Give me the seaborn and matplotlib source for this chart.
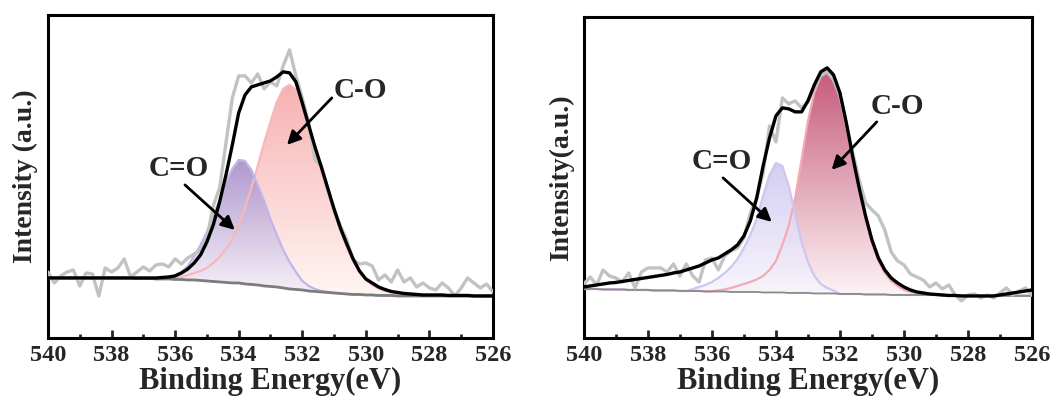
import numpy as np
import pandas as pd
import matplotlib.pyplot as plt
import seaborn as sns
from matplotlib.colors import to_rgb

# binding energy grid the curves were read at (eV), 540 -> 526 in 0.2 steps
energy = np.round(np.linspace(540, 526, 71), 1)

# ---------- left panel ----------
raw_left = [66, 55, 62, 66, 68, 52, 65, 64, 42, 70,
            66, 70, 79, 61, 66, 71, 67, 73, 74, 71,
            79, 74, 80, 84, 88, 100, 132, 150, 195, 240,
            262, 262, 255, 264, 249, 256, 252, 272, 288, 262,
            240, 215, 178, 172, 148, 128, 112, 98, 78, 74,
            75, 72, 58, 63, 56, 68, 56, 60, 51, 55,
            50, 48, 55, 50, 42, 50, 60, 55, 50, 54,
            46]
env_left = [60, 60, 60, 60, 60, 60, 60, 60, 60, 60,
            60, 60, 60, 60, 60, 60, 60, 60, 60.5, 61,
            62, 65, 69, 75, 83, 96, 113, 136, 163, 193,
            225, 243, 251, 253, 255, 257, 261, 266, 265, 256,
            235, 213, 191, 171, 150, 129, 110, 94, 79, 67,
            59, 55, 51, 48.5, 46.5, 45.5, 44.5, 44, 43.5, 43,
            43, 43, 43, 42.5, 42.5, 42.5, 42.5, 42, 42, 42,
            42]
co_left = [60, 60, 60, 60, 60, 60, 60, 60, 60, 60,
           60, 60, 60, 60, 59.5, 59.5, 59.5, 59, 59, 59,
           59, 61, 63, 65, 67, 70, 75, 81, 89, 99,
           113, 130, 150, 172, 195, 216, 236, 249, 253, 248,
           232, 210, 188, 167, 146, 126, 107, 91, 77, 66,
           58, 53, 49.5, 47, 45.5, 44.5, 44, 43.5, 43, 42.5,
           42, 42, 42, 42, 42, 42, 42, 42, 42, 42,
           42]
cdo_left = [60, 60, 60, 60, 60, 60, 60, 60, 60, 60,
            60, 60, 60, 60, 59.5, 59.5, 59.5, 59.5, 60, 61,
            63, 66, 72, 82, 93, 106, 122, 138, 155, 169,
            178, 177, 168, 153, 137, 119, 103, 88, 76, 66,
            57, 52, 49, 47, 46, 45, 44.5, 44, 43.5, 43.5,
            43, 43, 42.5, 42.5, 42.5, 42, 42, 42, 42, 42,
            42, 42, 42, 42, 42, 42, 42, 42, 42, 42,
            42]
bg_left = [60, 60, 60, 60, 60, 60, 60, 60, 60, 60,
           60, 60, 60, 60, 59.5, 59.5, 59.5, 59, 59, 59,
           58.5, 58.5, 58, 58, 57.5, 57, 56.5, 56, 55.5, 55,
           55, 54, 53.5, 53, 52, 51.5, 51, 50, 49, 48.5,
           48, 47, 46.5, 46, 45.5, 45, 44.5, 44, 43.5, 43.5,
           43, 43, 42.5, 42.5, 42.5, 42, 42, 42, 42, 42,
           42, 42, 42, 42, 42, 42, 42, 42, 42, 42,
           42]

# ---------- right panel ----------
raw_right = [54, 61, 53, 68, 62, 60, 56, 65, 50, 66,
             70, 70, 70, 66, 74, 62, 74, 62, 56, 78,
             80, 68, 82, 87, 90, 100, 125, 140, 165, 212,
             196, 240, 234, 237, 230, 236, 250, 262, 266, 258,
             242, 213, 185, 158, 135, 128, 122, 108, 86, 77,
             73, 64, 61, 58, 51, 55, 49, 53, 43, 37,
             43, 44, 40, 43, 40, 45, 50, 43, 47, 50,
             43]
env_right = [51, 52, 53, 54, 55, 55.5, 56.5, 57.5, 58.5, 59.5,
             60.5, 61.5, 62.5, 63.5, 65, 66, 68, 70, 72, 75,
             78, 80, 84, 88, 93, 102, 117, 140, 172, 200,
             222, 230, 229, 226, 226, 237, 253, 266, 270, 263,
             245, 215, 181, 150, 122, 98, 80, 68, 60, 55,
             51, 48, 46, 45, 44, 43.5, 43, 42.5, 42.5, 42,
             42, 42, 42, 42, 42, 43, 44, 45, 46, 47,
             48]
co_right = [49, 49, 49, 48.5, 48.5, 48.5, 48.5, 48, 48, 48,
            48, 47.5, 47.5, 47.5, 47.5, 47, 47, 47, 47, 46.5,
            46.8, 47.5, 48.5, 50, 52, 54, 56, 58.5, 62, 68,
            77, 93, 112, 140, 178, 217, 245, 262, 268, 260,
            242, 212, 178, 147, 119, 95, 77, 65, 57, 52,
            48, 46, 45, 44, 43.5, 43, 43, 42.5, 42.5, 42.5,
            42.5, 42.5, 42.5, 42.5, 42.5, 42.5, 42.5, 42.5, 42.5, 42.5,
            42.5]
cdo_right = [49, 49, 49, 48.5, 48.5, 48.5, 48.5, 48, 48, 48,
             48, 47.5, 47.5, 47.5, 47.5, 47, 47, 49, 51, 53,
             56, 60, 65, 71, 79, 90, 103, 119, 142, 163,
             175, 172, 152, 124, 96, 76, 62, 54, 50, 47.5,
             44, 44, 44, 44, 43.5, 43.5, 43.5, 43.5, 43, 43,
             43, 43, 43, 43, 43, 43, 42.5, 42.5, 42.5, 42.5,
             42.5, 42.5, 42.5, 42.5, 42.5, 42.5, 42.5, 42.5, 42.5, 42.5,
             42.5]
bg_right = [49, 49, 49, 48.5, 48.5, 48.5, 48.5, 48, 48, 48,
            48, 47.5, 47.5, 47.5, 47.5, 47, 47, 47, 47, 46.5,
            46.5, 46.5, 46.5, 46, 46, 46, 46, 46, 45.5, 45.5,
            45.5, 45.5, 45, 45, 45, 45, 44.5, 44.5, 44.5, 44.5,
            44, 44, 44, 44, 43.5, 43.5, 43.5, 43.5, 43, 43,
            43, 43, 43, 43, 43, 43, 42.5, 42.5, 42.5, 42,
            42, 42, 42, 42, 42, 42, 42, 42, 42, 42,
            42]

xticks = [540, 538, 536, 534, 532, 530, 528, 526]

sns.set_style("white")
plt.rcParams['font.family'] = ['Liberation Serif', 'DejaVu Serif']
plt.rcParams['font.weight'] = 'bold'


def gradient_fill(ax, x, y, base, c_top, c_bot, z, alpha=1.0):
    poly = ax.fill_between(x, y, base, facecolor='none', edgecolor='none')
    t = np.linspace(0, 1, 256)[:, None]
    top, bot = np.array(to_rgb(c_top)), np.array(to_rgb(c_bot))
    img = (bot + (top - bot) * t)[:, None, :]
    im = ax.imshow(img, extent=[526, 540, min(base), max(y)], origin='lower',
                   aspect='auto', zorder=z, alpha=alpha, interpolation='bilinear')
    im.set_clip_path(poly.get_paths()[0], transform=ax.transData)


def panel(ax, df, st, ylab, ytop, labelpad_x):
    gradient_fill(ax, df.E, df.co, df.bg, st['co_top'], st['co_bot'], 1)
    gradient_fill(ax, df.E, df.cdo, df.bg, st['cdo_top'], st['cdo_bot'], 1.5, st['cdo_alpha'])
    sns.lineplot(data=df, x='E', y='co', ax=ax, color=st['co_line'], lw=1.6, zorder=3)
    sns.lineplot(data=df, x='E', y='cdo', ax=ax, color=st['cdo_line'], lw=1.6, zorder=3)
    sns.lineplot(data=df, x='E', y='bg', ax=ax, color=st['bg_line'], lw=st['bg_lw'], zorder=3.5)
    sns.lineplot(data=df, x='E', y='raw', ax=ax, color='#c2c2c2', lw=2.4, zorder=4)
    sns.lineplot(data=df, x='E', y='env', ax=ax, color='black', lw=2.4, zorder=5)

    ax.set_xlim(540, 526)
    ax.set_ylim(0, ytop)
    ax.set_xticks(xticks)
    ax.set_xticklabels([str(v) for v in xticks], fontsize=17.5, fontweight='bold')
    ax.set_xticks([539, 537, 535, 533, 531, 529, 527], minor=True)
    ax.set_yticks([])
    ax.tick_params(axis='x', which='major', direction='in', length=6, width=2,
                   bottom=True, top=False, pad=5)
    ax.tick_params(axis='x', which='minor', direction='in', length=3, width=2,
                   bottom=True, top=False)
    for s in ax.spines.values():
        s.set_linewidth(2.2)
        s.set_color('black')
    ax.set_xlabel('Binding Energy(eV)', fontsize=22, fontweight='bold', labelpad=labelpad_x)
    ax.set_ylabel(ylab, fontsize=20, fontweight='bold', labelpad=7)


fig = plt.figure(figsize=(10.52, 3.96), dpi=100)
ax1 = fig.add_axes([0.0456, 0.1465, 0.423, 0.816])
ax2 = fig.add_axes([0.555, 0.1465, 0.426, 0.811])

left = pd.DataFrame({'E': energy, 'raw': raw_left, 'env': env_left,
                     'co': co_left, 'cdo': cdo_left, 'bg': bg_left})
right = pd.DataFrame({'E': energy, 'raw': raw_right, 'env': env_right,
                      'co': co_right, 'cdo': cdo_right, 'bg': bg_right})

style_left = dict(co_top='#f7b2b2', co_bot='#fff6f3', co_line='#f6b8b8',
                  cdo_top='#a78cc8', cdo_bot='#f7f3fb', cdo_line='#c3b5ea', cdo_alpha=0.9,
                  bg_line='#7c7c7c', bg_lw=2.0)
style_right = dict(co_top='#c65a7b', co_bot='#fdf4f6', co_line='#f3aab4',
                   cdo_top='#d0c8f0', cdo_bot='#f8f6fd', cdo_line='#cfc6f0', cdo_alpha=0.9,
                   bg_line='#8a8a8a', bg_lw=1.3)

panel(ax1, left, style_left, 'Intensity (a.u.)', 323, 1)
panel(ax2, right, style_right, 'Intensity(a.u.)', 321, 1)

arrow = dict(arrowstyle='-|>', lw=2, color='black', mutation_scale=20, shrinkA=0, shrinkB=0)
ax1.text(535.9, 169, 'C=O', fontsize=21, fontweight='bold', ha='center', va='center', zorder=6)
ax1.annotate('', xy=(534.12, 108), xytext=(535.69, 153), arrowprops=arrow, zorder=6)
ax1.text(530.16, 247, 'C-O', fontsize=21, fontweight='bold', ha='center', va='center', zorder=6)
ax1.annotate('', xy=(532.48, 193), xytext=(531.07, 240), arrowprops=arrow, zorder=6)

ax2.text(535.69, 176, 'C=O', fontsize=21, fontweight='bold', ha='center', va='center', zorder=6)
ax2.annotate('', xy=(534.13, 116), xytext=(535.65, 160), arrowprops=arrow, zorder=6)
ax2.text(530.22, 231, 'C-O', fontsize=21, fontweight='bold', ha='center', va='center', zorder=6)
ax2.annotate('', xy=(532.26, 168), xytext=(530.85, 216), arrowprops=arrow, zorder=6)

fig.savefig('out.png', dpi=100)
